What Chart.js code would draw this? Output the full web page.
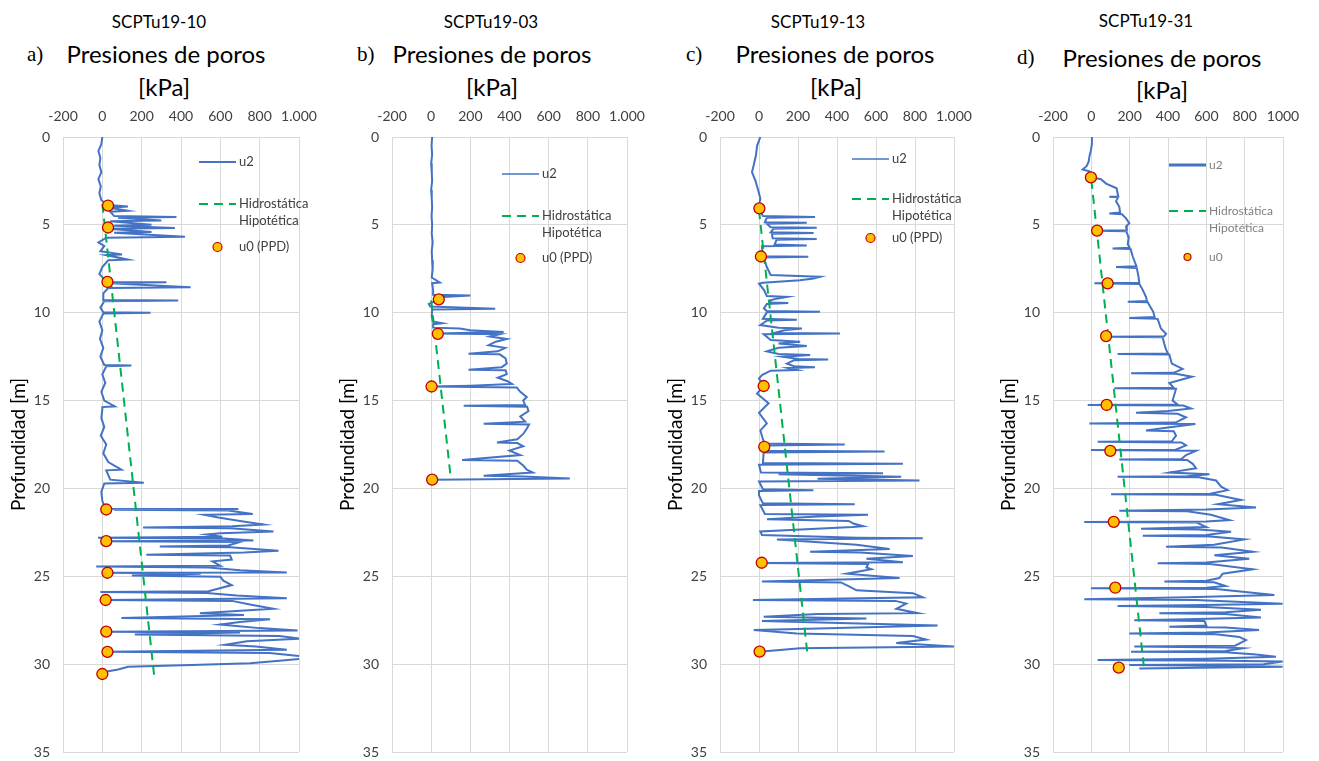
<!DOCTYPE html>
<html>
<head>
<meta charset="utf-8">
<script src="https://cdn.jsdelivr.net/npm/chart.js@4.4.1/dist/chart.umd.min.js"></script>
<style>
  body { margin: 0; background: #fff; width: 1319px; height: 761px; overflow: hidden; position: relative; font-family: Lato, sans-serif; }
  canvas { position: absolute; top: 0; }
  .t { position: absolute; transform: translate(-50%, -50%); white-space: nowrap; color: #000; }
  .id { font-size: 17px; }
  .ttl { font-size: 24px; }
  .lt { position: absolute; transform: translateY(-50%); font-family: "Liberation Serif", serif; font-size: 21px; }
</style>
</head>
<body>
<div class="t id" style="left:159px;top:21px">SCPTu19-10</div>
<div class="lt" style="left:27px;top:54px">a)</div>
<div class="t ttl" style="left:166px;top:53px">Presiones de poros</div>
<div class="t ttl" style="left:164px;top:86px">[kPa]</div>

<div class="t id" style="left:491px;top:21px">SCPTu19-03</div>
<div class="lt" style="left:357px;top:54px">b)</div>
<div class="t ttl" style="left:492px;top:53px">Presiones de poros</div>
<div class="t ttl" style="left:492px;top:86px">[kPa]</div>

<div class="t id" style="left:818px;top:21px">SCPTu19-13</div>
<div class="lt" style="left:686px;top:54px">c)</div>
<div class="t ttl" style="left:835px;top:53px">Presiones de poros</div>
<div class="t ttl" style="left:836px;top:86px">[kPa]</div>

<div class="t id" style="left:1146px;top:20px">SCPTu19-31</div>
<div class="lt" style="left:1017px;top:57px">d)</div>
<div class="t ttl" style="left:1162px;top:57px">Presiones de poros</div>
<div class="t ttl" style="left:1162px;top:89px">[kPa]</div>

<canvas id="cA"></canvas>
<canvas id="cB"></canvas>
<canvas id="cC"></canvas>
<canvas id="cD"></canvas>

<script>
// tick labels
const xTickLabelsDot = ["-200", "0", "200", "400", "600", "800", "1.000"];
const xTickLabelsPlain = ["-200", "0", "200", "400", "600", "800", "1000"];

// a) SCPTu19-10
const depthA = [0, 0.4, 0.8, 1.2, 1.6, 2.0, 2.4, 2.8, 3.2, 3.6,
  3.87, 3.95, 4.02, 4.2, 4.25, 4.5, 4.55, 4.6, 4.75, 4.8,
  5.0, 5.05, 5.18, 5.22, 5.4, 5.45, 5.68, 5.73, 6.0, 6.2,
  6.5, 6.68, 6.72, 6.98, 7.02, 7.4, 7.8, 8.1, 8.25, 8.27,
  8.32, 8.55, 8.6, 8.9, 9.28, 9.3, 9.35, 9.7, 9.98, 10.0,
  10.05, 10.5, 11.0, 11.5, 12.0, 12.5, 12.97, 13.0, 13.05, 13.5,
  14.0, 14.5, 15.0, 15.33, 15.37, 15.5, 16.0, 16.5, 17.0, 17.5,
  18.0, 18.5, 18.93, 18.97, 19.5, 19.68, 19.72, 20.2, 20.7, 21.0,
  21.15, 21.17, 21.22, 21.25, 21.45, 21.5, 21.65, 21.85, 22.05, 22.15,
  22.22, 22.27, 22.45, 22.55, 22.62, 22.75, 22.8, 22.85, 22.97, 23.0,
  23.05, 23.25, 23.3, 23.35, 23.55, 23.65, 23.78, 23.82, 24.05, 24.15,
  24.4, 24.45, 24.5, 24.65, 24.78, 24.8, 24.86, 24.95, 25.02, 25.25,
  25.5, 25.85, 25.9, 25.95, 26.1, 26.25, 26.35, 26.4, 26.6, 26.85,
  27.0, 27.1, 27.2, 27.38, 27.45, 27.6, 27.75, 27.95, 28.08, 28.15,
  28.2, 28.32, 28.4, 28.55, 28.7, 28.9, 29.0, 29.18, 29.3, 29.36,
  29.55, 29.7, 29.8, 29.95, 30.05, 30.15, 30.3, 30.45, 30.56];
const u2A = [0, -5, -20, -10, -15, -5, -20, -8, -15, -5,
  29, 130, 35, 130, 40, 60, 377, 80, 300, 40,
  250, 60, 369, 30, 250, 60, 420, 20, -20, 10,
  -10, 100, 20, 130, 30, 0, -15, 10, 26, 326,
  40, 449, 30, 5, 5, 386, 10, -10, 5, 245,
  5, -15, 0, -12, 5, -10, 10, 148, 20, 0,
  15, -5, 10, 63, 0, 0, -5, 10, -8, 20,
  5, 30, 97, 20, 40, 211, 10, -5, 0, 10,
  15, 692, 60, 640, 765, 520, 590, 700, 819, 660,
  207, 650, 870, 600, 530, 610, -22, 620, 768, 20,
  700, 640, 292, 650, 896, 720, 224, 650, 658, 560,
  600, -31, 540, 700, 938, 26, 500, 150, 600, 615,
  658, 540, -10, 530, 683, 938, 17, 660, 751, 870,
  640, 496, 720, 97, 853, 700, 598, 800, 993, 20,
  700, 165, 900, 1010, 735, 624, 780, 938, 26, 850,
  1010, 1010, 900, 751, 454, 131, 80, 10, 0];
const hydroDepthA = [3.8, 30.6];
const hydroA = [0, 263];
const ppdDepthA = [3.9, 5.15, 8.25, 21.2, 23.0, 24.8, 26.35, 28.15, 29.3, 30.56];
const ppdA = [29, 29, 26, 20, 20, 26, 17, 20, 26, 0];

// b) SCPTu19-03
const depthB = [0, 0.5, 1.0, 1.5, 2.0, 2.5, 3.0, 3.5, 4.0, 4.5,
  5.0, 5.5, 6.0, 6.5, 7.0, 7.5, 8.0, 8.28, 8.32, 8.7,
  8.98, 9.02, 9.1, 9.3, 9.5, 9.65, 9.78, 9.82, 10.2, 10.5,
  10.6, 10.65, 10.85, 10.9, 11.0, 11.1, 11.18, 11.22, 11.35, 11.5,
  11.65, 11.85, 12.0, 12.2, 12.33, 12.37, 12.6, 12.9, 13.1, 13.24,
  13.28, 13.5, 13.7, 13.9, 14.05, 14.15, 14.2, 14.25, 14.5, 14.8,
  15.0, 15.25, 15.3, 15.35, 15.6, 15.9, 16.2, 16.32, 16.36, 16.6,
  16.9, 17.2, 17.38, 17.42, 17.6, 17.85, 18.1, 18.38, 18.42, 18.7,
  18.95, 19.1, 19.28, 19.32, 19.44, 19.5];
const u2B = [5, 2, 5, 0, 3, 5, 0, 3, 5, 2,
  5, 3, 8, 3, 5, 8, 3, 44, 5, 10,
  10, 200, 60, 30, -12, -5, 327, 5, 3, 8,
  56, 10, 10, 146, 200, 370, 34, 350, 300, 386,
  330, 293, 378, 340, 191, 350, 380, 386, 360, 191,
  380, 386, 340, 390, 412, 200, 5, 437, 455, 488,
  470, 480, 166, 490, 497, 455, 480, 268, 500, 488,
  470, 440, 336, 440, 470, 400, 455, 158, 440, 470,
  490, 519, 268, 470, 708, 5];
const hydroDepthB = [9.3, 19.2];
const hydroB = [0, 98];
const ppdDepthB = [9.24, 11.2, 14.2, 19.5];
const ppdB = [39, 34, 2, 5];

// c) SCPTu19-13
const depthC = [0, 0.5, 1.0, 1.5, 2.0, 2.5, 3.0, 3.5, 3.9, 4.06,
  4.5, 4.55, 4.6, 4.85, 4.88, 4.93, 5.14, 5.17, 5.22, 5.42,
  5.46, 5.5, 5.76, 5.8, 5.85, 6.12, 6.17, 6.22, 6.78, 6.82,
  6.86, 7.4, 7.85, 7.95, 8.05, 8.15, 8.3, 8.35, 8.7, 9.05,
  9.1, 9.2, 9.3, 9.42, 9.45, 9.5, 9.75, 9.9, 9.94, 9.98,
  10.35, 10.4, 10.45, 10.7, 10.85, 10.9, 11.0, 11.15, 11.18, 11.22,
  11.55, 11.65, 11.75, 11.9, 12.0, 12.2, 12.35, 12.4, 12.5, 12.63,
  12.66, 12.7, 12.9, 13.05, 13.1, 13.15, 13.26, 13.3, 13.55, 13.75,
  14.17, 14.6, 15.15, 15.7, 16.3, 16.7, 17.2, 17.45, 17.5, 17.56,
  17.63, 17.85, 17.9, 17.95, 18.55, 18.6, 18.65, 19.1, 19.14, 19.2,
  19.33, 19.45, 19.55, 19.6, 20.05, 20.1, 20.15, 20.4, 20.85, 20.9,
  20.95, 21.45, 21.5, 21.6, 21.75, 21.85, 22.0, 22.15, 22.2, 22.45,
  22.65, 22.8, 22.84, 22.9, 23.2, 23.45, 23.6, 23.65, 23.85, 24.0,
  24.2, 24.24, 24.3, 24.5, 24.6, 24.85, 25.1, 25.3, 25.35, 25.6,
  25.8, 25.96, 26.2, 26.35, 26.4, 26.55, 26.85, 27.1, 27.15, 27.3,
  27.4, 27.55, 27.8, 28.0, 28.05, 28.25, 28.4, 28.6, 28.8, 29.0,
  29.1, 29.29];
const u2C = [7, -10, -15, -25, -36, -18, -5, 7, 0, 2,
  20, 287, 40, 30, 245, 40, 60, 296, 75, 60,
  280, 66, 70, 296, 90, 80, 245, 15, 20, 253,
  25, 40, 60, 313, 280, 210, 20, 0, 25, 40,
  143, 90, 56, 60, 150, 40, 25, 40, 313, 40,
  20, 194, 40, 7, 100, 220, 130, 80, 415, 24,
  60, 211, 100, 245, 100, 40, 100, 262, 120, 200,
  355, 180, 143, 180, 287, 150, 194, 60, 15, 0,
  24, -10, 49, 0, 40, 7, 20, 30, 440, 30,
  27, 40, 644, 24, 20, 738, 0, 10, 636, 100,
  729, 300, 823, 0, 20, 279, 0, 0, 20, 491,
  7, 30, 559, 300, 41, 460, 484, 534, 480, 7,
  15, 500, 840, 92, 500, 670, 262, 520, 789, 551,
  738, 14, 560, 551, 576, 450, 721, 15, 420, 467,
  500, 789, 840, -31, 700, 755, 704, 814, 300, 24,
  551, 15, 916, 200, -27, 194, 789, 857, 704, 1001,
  211, 3];
const hydroDepthC = [4.16, 29.4];
const hydroC = [0, 248];
const ppdDepthC = [4.06, 6.8, 14.17, 17.63, 24.23, 29.29];
const ppdC = [2, 10, 24, 27, 14, 3];

// d) SCPTu19-31
const depthD = [0, 0.4, 0.75, 1.1, 1.4, 1.65, 1.85, 1.95, 2.1, 2.3,
  2.4, 2.65, 2.92, 3.2, 3.38, 3.4, 3.43, 3.65, 3.97, 4.3,
  4.35, 4.4, 4.63, 4.9, 5.1, 5.3, 5.33, 5.36, 5.7, 6.1,
  6.3, 6.34, 6.38, 6.8, 7.2, 7.35, 7.4, 7.45, 8.0, 8.3,
  8.33, 8.36, 8.7, 9.1, 9.34, 9.37, 9.4, 9.95, 10.25, 10.3,
  10.35, 10.9, 11.2, 11.34, 11.37, 11.4, 11.75, 12.1, 12.32, 12.35,
  12.38, 12.9, 13.2, 13.42, 13.45, 13.48, 13.64, 14.0, 14.27, 14.3,
  14.33, 15.0, 15.22, 15.25, 15.28, 15.45, 15.6, 15.7, 15.75, 15.95,
  16.25, 16.3, 16.33, 16.5, 16.7, 16.75, 17.0, 17.32, 17.35, 17.38,
  17.55, 17.8, 17.82, 17.86, 18.1, 18.32, 18.35, 18.38, 18.6, 18.85,
  19.1, 19.2, 19.3, 19.33, 19.36, 19.55, 19.9, 20.1, 20.3, 20.33,
  20.36, 20.66, 20.9, 21.08, 21.2, 21.27, 21.3, 21.5, 21.8, 21.88,
  21.91, 21.94, 22.2, 22.3, 22.34, 22.46, 22.65, 22.7, 22.74, 22.9,
  23.2, 23.32, 23.36, 23.6, 23.8, 24.0, 24.22, 24.26, 24.3, 24.6,
  24.85, 25.1, 25.25, 25.3, 25.34, 25.55, 25.65, 25.68, 25.72, 25.85,
  26.07, 26.2, 26.3, 26.35, 26.57, 26.65, 26.69, 26.75, 26.9, 27.05,
  27.1, 27.15, 27.34, 27.45, 27.5, 27.55, 27.8, 27.87, 27.92, 28.05,
  28.2, 28.25, 28.3, 28.45, 28.63, 28.95, 29.0, 29.05, 29.1, 29.25,
  29.29, 29.33, 29.45, 29.58, 29.7, 29.76, 29.8, 29.85, 30.0, 30.05,
  30.1, 30.15, 30.25];
const u2D = [3, 3, -2, -10, -14, -24, -45, -10, 0, 5,
  50, 77, 132, 137, 140, 94, 140, 129, 146, 150,
  94, 160, 181, 198, 181, 185, 30, 181, 195, 190,
  200, 111, 205, 216, 230, 235, 129, 237, 247, 250,
  16, 251, 268, 285, 290, 190, 294, 323, 330, 198,
  346, 363, 390, 380, 94, 372, 380, 390, 400, 137,
  407, 420, 476, 430, 207, 440, 525, 407, 430, 120,
  442, 424, 450, -19, 480, 520, 400, 233, 450, 494,
  440, -10, 543, 420, 285, 430, 442, 420, 33, 470,
  494, 440, -2, 546, 494, 470, 146, 500, 529, 546,
  407, 616, 500, 137, 560, 651, 677, 711, 620, 103,
  650, 781, 661, 859, 600, 146, 500, 624, 720, 600,
  -37, 550, 600, 259, 560, 729, 600, 268, 620, 798,
  640, 390, 680, 842, 642, 824, 600, 346, 620, 842,
  685, 668, 600, 381, 640, 700, 600, -2, 650, 764,
  955, 500, -37, 546, 998, 500, 137, 600, 885, 700,
  355, 700, 885, 500, 224, 590, 600, 407, 700, 875,
  600, 198, 650, 772, 807, 750, 224, 700, 790, 700,
  207, 700, 859, 963, 600, 33, 700, 998, 900, 198,
  800, 998, 250];
const hydroDepthD = [2.45, 30.34];
const hydroD = [0, 276];
const ppdDepthD = [2.3, 5.33, 8.33, 11.33, 15.25, 17.86, 21.9, 25.65, 30.2];
const ppdD = [-2, 30, 85, 77, 80, 99, 117, 125, 143];

const gridColor = "#d9d9d9";
const tickColor = "#404040";

// legend drawn inside the plot area, like the original
const pwLegend = {
  id: "pwLegend",
  afterDraw(chart, args, o) {
    const { ctx, chartArea: { left, top } } = chart;
    const ds = chart.data.datasets;
    const x0 = left + o.dx, tx = x0 + 40;
    ctx.save();
    ctx.font = o.size + "px Lato";
    ctx.fillStyle = o.color;
    ctx.textBaseline = "middle";
    ctx.textAlign = "left";

    ctx.strokeStyle = "#4472C4";
    ctx.lineWidth = o.u2w;
    ctx.beginPath();
    ctx.moveTo(x0, top + o.y1);
    ctx.lineTo(x0 + 37, top + o.y1);
    ctx.stroke();
    ctx.fillText(ds[2].label, tx, top + o.y1);

    ctx.strokeStyle = "#00B050";
    ctx.lineWidth = 2;
    ctx.setLineDash([9, 6]);
    ctx.beginPath();
    ctx.moveTo(x0, top + o.y2);
    ctx.lineTo(x0 + 37, top + o.y2);
    ctx.stroke();
    ctx.setLineDash([]);
    const hl = ds[1].label.split(" ");
    ctx.fillText(hl[0], tx, top + o.y2);
    ctx.fillText(hl[1], tx, top + o.y2 + 17);

    ctx.beginPath();
    ctx.arc(x0 + 18.5, top + o.y3, o.r, 0, Math.PI * 2);
    ctx.fillStyle = "#FFC000";
    ctx.fill();
    ctx.strokeStyle = "#C00000";
    ctx.lineWidth = 1.2;
    ctx.stroke();
    ctx.fillStyle = o.color;
    ctx.fillText(ds[0].label, tx, top + o.y3);
    ctx.restore();
  }
};

function pts(xs, ys) {
  return xs.map((v, i) => ({ x: v, y: ys[i] }));
}

function panel(id, left, plotW, depth, u2, hDepth, h, pDepth, p, xLabels, leg) {
  const cv = document.getElementById(id);
  cv.width = 63 + plotW + 21;
  cv.height = 761;
  cv.style.left = left + "px";
  new Chart(cv, {
    type: "scatter",
    data: {
      datasets: [
        {
          label: leg.u0,
          data: pts(p, pDepth),
          pointRadius: 5.5,
          pointBackgroundColor: "#FFC000",
          pointBorderColor: "#C00000",
          pointBorderWidth: 1.3,
          showLine: false
        },
        {
          label: "Hidrostática Hipotética",
          data: pts(h, hDepth),
          showLine: true,
          borderColor: "#00B050",
          borderWidth: 2,
          borderDash: [9, 6],
          pointRadius: 0
        },
        {
          label: "u2",
          data: pts(u2, depth),
          showLine: true,
          borderColor: "#4472C4",
          borderWidth: 2,
          pointRadius: 0
        }
      ]
    },
    options: {
      responsive: false,
      animation: false,
      events: [],
      layout: { padding: { top: 100, right: 21, bottom: 9, left: 0 } },
      plugins: {
        legend: { display: false },
        tooltip: { enabled: false },
        pwLegend: leg
      },
      scales: {
        x: {
          type: "linear",
          position: "top",
          min: -200,
          max: 1000,
          ticks: {
            stepSize: 200,
            autoSkip: false,
            maxRotation: 0,
            padding: 12,
            color: tickColor,
            font: { family: "Lato", size: 14 },
            callback: v => xLabels[Math.round((v + 200) / 200)]
          },
          grid: { color: gridColor, drawTicks: false },
          border: { color: gridColor },
          afterFit: s => { s.height = 37; s.paddingLeft = 0; s.paddingRight = 0; }
        },
        y: {
          type: "linear",
          reverse: true,
          min: 0,
          max: 35,
          ticks: {
            stepSize: 5,
            padding: 13,
            color: tickColor,
            font: { family: "Lato", size: 14 }
          },
          grid: { color: gridColor, drawTicks: false },
          border: { color: gridColor },
          title: {
            display: true,
            text: "Profundidad [m]",
            color: "#000",
            font: { family: "Lato", size: 19 },
            padding: { top: 7, bottom: 0 }
          },
          afterFit: s => { s.width = 63; s.paddingTop = 0; s.paddingBottom = 0; }
        }
      }
    },
    plugins: [pwLegend]
  });
}

panel("cA", 0, 236, depthA, u2A, hydroDepthA, hydroA, ppdDepthA, ppdA, xTickLabelsDot,
  { u0: "u0 (PPD)", dx: 136, y1: 25, y2: 67, y3: 110, r: 4.5, size: 13, color: "#404040", u2w: 2 });
panel("cB", 329, 235, depthB, u2B, hydroDepthB, hydroB, ppdDepthB, ppdB, xTickLabelsDot,
  { u0: "u0 (PPD)", dx: 110, y1: 37, y2: 79, y3: 121, r: 4.5, size: 13, color: "#404040", u2w: 1.5 });
panel("cC", 657, 234, depthC, u2C, hydroDepthC, hydroC, ppdDepthC, ppdC, xTickLabelsDot,
  { u0: "u0 (PPD)", dx: 132, y1: 22, y2: 62, y3: 101, r: 4.5, size: 13, color: "#404040", u2w: 1.5 });
panel("cD", 990, 230, depthD, u2D, hydroDepthD, hydroD, ppdDepthD, ppdD, xTickLabelsPlain,
  { u0: "u0", dx: 116, y1: 28, y2: 74, y3: 120, r: 3.5, size: 12, color: "#7f7f7f", u2w: 3 });
</script>
</body>
</html>
